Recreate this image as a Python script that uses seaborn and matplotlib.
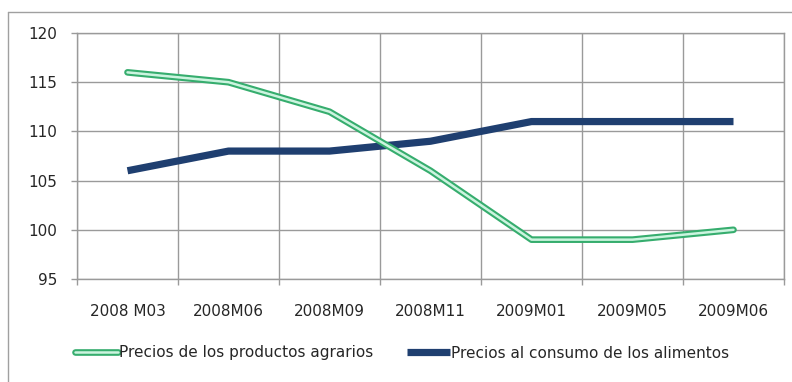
import matplotlib
matplotlib.use("Agg")
import matplotlib.pyplot as plt
import matplotlib.patheffects as pe
import seaborn as sns
import pandas as pd
from matplotlib.lines import Line2D
from matplotlib.ticker import FixedLocator

periods = ["2008 M03", "2008M06", "2008M09", "2008M11", "2009M01", "2009M05", "2009M06"]
agrarios = [116, 115, 112, 106, 99, 99, 100]
alimentos = [106, 108, 108, 109, 111, 111, 111]
label_agr = "Precios de los productos agrarios"
label_ali = "Precios al consumo de los alimentos"

df = pd.DataFrame({"periodo": periods, "agr": agrarios, "ali": alimentos})

sns.set_theme(style="white")
plt.rcParams["font.family"] = ["DejaVu Sans"]

green_out = "#36ad6e"
green_in = "#ccf4df"
navy = "#1f3f70"
grid_c = "#9a9a9a"
text_c = "#262626"
fs = 11

# double line: light core inside a darker green stroke
double_fx = [pe.Stroke(linewidth=4.8, foreground=green_out, capstyle="round"), pe.Normal()]

fig = plt.figure(figsize=(7.92, 3.82), dpi=100)
ax = fig.add_axes([77 / 792, 1 - 279 / 382, (784 - 77) / 792, (279 - 33) / 382])

# chart frame (left and top edges visible)
fig.add_artist(Line2D([8 / 792, 8 / 792], [0, 1 - 12 / 382], color="#a0a0a0", lw=1.0))
fig.add_artist(Line2D([8 / 792, 1], [1 - 12 / 382, 1 - 12 / 382], color="#a0a0a0", lw=1.0))

sns.lineplot(data=df, x="periodo", y="ali", ax=ax, color=navy, lw=5.2,
             sort=False, solid_capstyle="butt", zorder=3)
sns.lineplot(data=df, x="periodo", y="agr", ax=ax, color=green_in, lw=1.8,
             sort=False, solid_capstyle="round", zorder=4, path_effects=double_fx)

ax.set_xlim(-0.5, len(periods) - 0.5)
ax.set_ylim(95, 120)
ax.set_yticks(range(95, 121, 5))
ax.xaxis.set_minor_locator(FixedLocator([i - 0.5 for i in range(len(periods) + 1)]))
ax.grid(True, which="minor", axis="x", color=grid_c, lw=1.0)
ax.grid(True, which="major", axis="y", color=grid_c, lw=1.0)
ax.grid(False, which="major", axis="x")
ax.set_axisbelow(True)
ax.set_xlabel("")
ax.set_ylabel("")
for s in ax.spines.values():
    s.set_color(grid_c)
    s.set_linewidth(1.0)

ax.tick_params(axis="y", which="major", direction="out", length=4, width=1,
               color=grid_c, pad=10, labelsize=fs, labelcolor=text_c, left=True)
ax.tick_params(axis="x", which="major", length=0, pad=18, labelsize=fs,
               labelcolor=text_c)
ax.tick_params(axis="x", which="minor", direction="out", length=4, width=1,
               color=grid_c, bottom=True)

h_agr = Line2D([], [], color=green_in, lw=1.8, solid_capstyle="round", path_effects=double_fx)
h_ali = Line2D([], [], color=navy, lw=5.2, solid_capstyle="butt")
fig.legend([h_agr, h_ali], [label_agr, label_ali],
           loc="center left", bbox_to_anchor=(75 / 792, 1 - 353 / 382),
           ncol=2, frameon=False, borderpad=0, borderaxespad=0,
           handlelength=2.8, handletextpad=0.1, columnspacing=2.2,
           fontsize=fs, labelcolor=text_c)

fig.savefig("out.png", dpi=100)
